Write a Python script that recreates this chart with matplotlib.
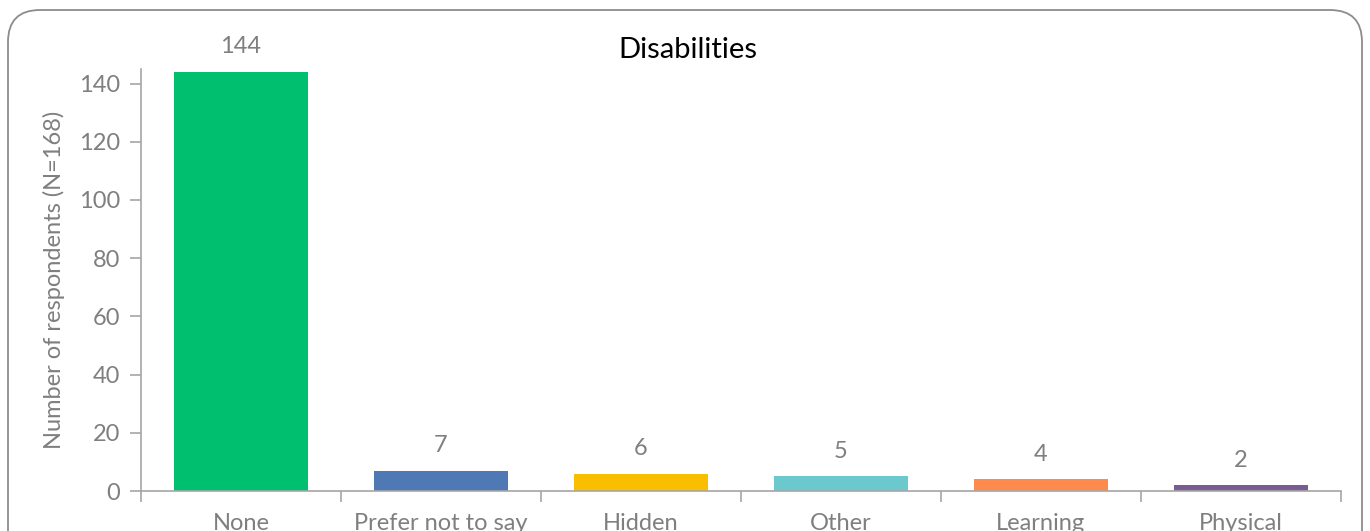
import matplotlib.pyplot as plt
from matplotlib.patches import FancyBboxPatch

plt.rcParams['font.family'] = ['Lato', 'DejaVu Sans']

categories = ['None', 'Prefer not to say', 'Hidden', 'Other', 'Learning', 'Physical']
counts = [144, 7, 6, 5, 4, 2]
colors = ['#00BF6F', '#4E79B5', '#F9BE00', '#6BC8CC', '#FF8A4D', '#7A5C94']

grey = '#7F7F7F'
axis_grey = '#A6A6A6'

W, H = 1370, 531
fig = plt.figure(figsize=(W / 100, H / 100), dpi=100)

# background layer in pixel units for the rounded frame
bg = fig.add_axes([0, 0, 1, 1])
bg.set_xlim(0, W)
bg.set_ylim(H, 0)
bg.axis('off')
bg.add_patch(FancyBboxPatch((8, 10), 1354, 600,
                            boxstyle='round,pad=0,rounding_size=32',
                            fill=False, edgecolor='#8C8C8C', linewidth=1.3))

ax = fig.add_axes([141 / W, 1 - 491 / H, 1200 / W, 422 / H])
x = list(range(len(categories)))
bars = ax.bar(x, counts, width=0.67, color=colors, zorder=2)

for b, v in zip(bars, counts):
    ax.annotate(str(v), (b.get_x() + b.get_width() / 2, v), xytext=(0, 18),
                textcoords='offset points', ha='center', va='center',
                fontsize=17, color=grey)

ax.set_xlim(-0.5, len(categories) - 0.5)
ax.set_ylim(0, 145)
ax.set_yticks(range(0, 141, 20))
ax.set_xticks([i - 0.5 for i in range(len(categories) + 1)])
ax.set_xticklabels([])
ax.set_xticks(x, minor=True)
ax.set_xticklabels(categories, minor=True)
ax.tick_params(axis='x', which='major', length=8, color=axis_grey, width=1.2)
ax.tick_params(axis='x', which='minor', length=0, pad=16, labelsize=17, labelcolor=grey)
ax.tick_params(axis='y', length=8, color=axis_grey, width=1.2, labelsize=17,
               labelcolor=grey, pad=7)

for s in ['top', 'right']:
    ax.spines[s].set_visible(False)
for s in ['left', 'bottom']:
    ax.spines[s].set_color(axis_grey)
    ax.spines[s].set_linewidth(1.2)

ax.set_ylabel('Number of respondents (N=168)', fontsize=17, color=grey, labelpad=10)
fig.text(688 / W, 1 - 50 / H, 'Disabilities', ha='center', va='center',
         fontsize=21, color='black')

fig.savefig('out.png', dpi=100)
